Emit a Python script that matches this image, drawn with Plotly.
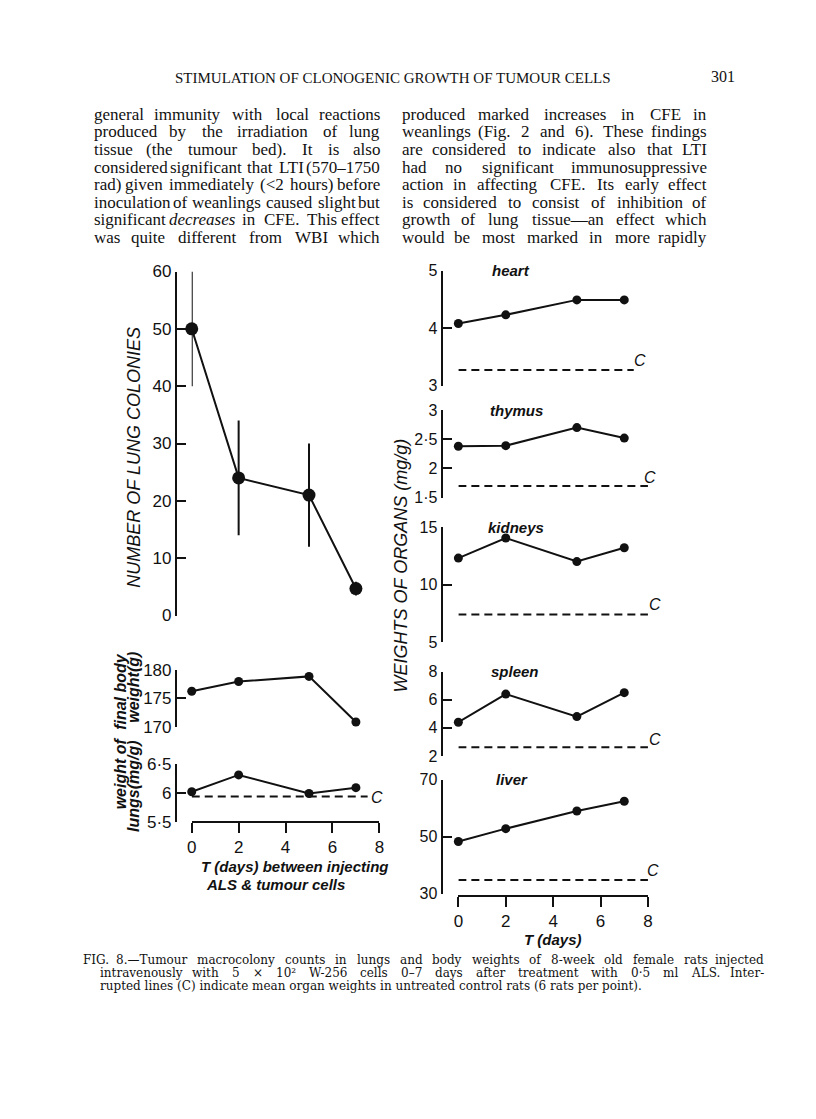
import plotly.graph_objects as go

# page is 816x1119; the figure sits inside the default 8px body margin
PAGE_W, PAGE_H = 816, 1119
OFF = 8
W, H = PAGE_W - 2 * OFF, PAGE_H - 2 * OFF

# ---------------- data ----------------
days = [0, 2, 5, 7]
lung_colonies = [50, 24, 21, 4.7]
lung_colonies_err = [10, 10, 9, 1.2]
body_weight = [176.2, 177.9, 178.8, 170.8]
lung_weight = [6.02, 6.31, 5.99, 6.09]
lung_weight_control = 5.94

organ_names = ["heart", "thymus", "kidneys", "spleen", "liver"]
heart = [4.08, 4.23, 4.49, 4.49]
thymus = [2.38, 2.39, 2.70, 2.52]
kidneys = [12.3, 14.05, 12.0, 13.2]
spleen = [4.4, 6.4, 4.8, 6.5]
liver = [48.3, 52.8, 59.0, 62.4]
organ_controls = [3.27, 1.70, 7.4, 2.63, 34.8]

x_tickvals = [0, 2, 4, 6, 8]
lung_colony_ticks = [0, 10, 20, 30, 40, 50, 60]
body_weight_ticks = [170, 175, 180]
lung_weight_ticks = [5.5, 6, 6.5]
lung_weight_ticktext = ["5·5", "6", "6·5"]
organ_ticks = [[3, 4, 5], [1.5, 2, 2.5, 3], [5, 10, 15], [2, 4, 6, 8], [30, 50, 70]]
organ_ticktext = [["3", "4", "5"], ["1·5", "2", "2·5", "3"], ["5", "10", "15"],
                  ["2", "4", "6", "8"], ["30", "50", "70"]]
organ_ranges = [[3, 5], [1.5, 3], [5, 15], [2, 8], [30, 70]]

header = "STIMULATION OF CLONOGENIC GROWTH OF TUMOUR CELLS"
page_no = "301"
col1_lines = [
    "general immunity with local reactions",
    "produced by the irradiation of lung",
    "tissue (the tumour bed). It is also",
    "considered significant that LTI (570–1750",
    "rad) given immediately (<2 hours) before",
    "inoculation of weanlings caused slight but",
    "significant decreases in CFE. This effect",
    "was quite different from WBI which",
]
col2_lines = [
    "produced marked increases in CFE in",
    "weanlings (Fig. 2 and 6). These findings",
    "are considered to indicate also that LTI",
    "had no significant immunosuppressive",
    "action in affecting CFE. Its early effect",
    "is considered to consist of inhibition of",
    "growth of lung tissue—an effect which",
    "would be most marked in more rapidly",
]
caption_lines = [
    "FIG. 8.—Tumour macrocolony counts in lungs and body weights of 8-week old female rats injected",
    "intravenously with 5 × 10² W-256 cells 0–7 days after treatment with 0·5 ml ALS. Inter-",
    "rupted lines (C) indicate mean organ weights in untreated control rats (6 rats per point).",
]

# ---------------- styles / layout geometry (page pixels) ----------------
INK = "#111111"
SANS = "Liberation Sans"
SERIF = "Liberation Serif"
CAP_SERIF = "DejaVu Serif"


def px(x):
    return (x - OFF) / W


def py(y):
    return 1 - (y - OFF) / H


LEFT_X = (189, 379)
LEFT_YAXIS_X = 173
left_panels = [(267, 617), (672, 730), (768, 827)]
LEFT_XAXIS_Y = 827

RIGHT_X = (459, 651)
RIGHT_YAXIS_X = 442
right_panels = [(266, 383), (408, 497), (527, 644), (674, 760), (784, 900)]
RIGHT_XAXIS_Y = 902

organ_dash_end = [7.4, 8.0, 8.0, 8.0, 8.0]
organ_c_pos = [7.65, 8.1, 8.3, 8.3, 8.2]
organ_c_shift = [10, 9, 10, 8, 10]
organ_label_x = [2.2, 2.45, 2.45, 2.4, 2.25]

fig = go.Figure()

yaxis_common = dict(
    anchor="free", showline=True, linecolor=INK, linewidth=2,
    ticks="inside", ticklen=9, tickwidth=2, tickcolor=INK,
    showgrid=False, zeroline=False, fixedrange=True,
    tickfont=dict(family=SANS, size=17, color=INK),
)
xaxis_common = dict(
    anchor="free", showline=True, linecolor=INK, linewidth=2,
    ticks="outside", ticklen=10, tickwidth=2, tickcolor=INK,
    showgrid=False, zeroline=False, fixedrange=True, range=[0, 8],
    tickvals=x_tickvals, ticktext=[str(v) for v in x_tickvals],
    tickfont=dict(family=SANS, size=17, color=INK),
)

layout = dict(
    width=W, height=H, margin=dict(l=0, r=0, t=0, b=0),
    paper_bgcolor="white", plot_bgcolor="rgba(0,0,0,0)", showlegend=False,
)
layout["xaxis"] = dict(xaxis_common, domain=[px(LEFT_X[0]), px(LEFT_X[1])],
                       position=py(LEFT_XAXIS_Y))
layout["xaxis2"] = dict(xaxis_common, domain=[px(RIGHT_X[0]), px(RIGHT_X[1])],
                        position=py(RIGHT_XAXIS_Y))

left_ranges = [[0, 60], [170, 180], [5.5, 6.5]]
left_ticks = [lung_colony_ticks, body_weight_ticks, lung_weight_ticks]
left_ticktext = [[str(v) for v in lung_colony_ticks],
                 [str(v) for v in body_weight_ticks], lung_weight_ticktext]
for i, (top, bot) in enumerate(left_panels):
    name = "yaxis" if i == 0 else f"yaxis{i + 1}"
    layout[name] = dict(yaxis_common, domain=[py(bot), py(top)],
                        position=px(LEFT_YAXIS_X), range=left_ranges[i],
                        tickvals=left_ticks[i], ticktext=left_ticktext[i])
for j, (top, bot) in enumerate(right_panels):
    layout[f"yaxis{j + 4}"] = dict(yaxis_common, domain=[py(bot), py(top)],
                                   position=px(RIGHT_YAXIS_X), range=organ_ranges[j],
                                   tickvals=organ_ticks[j], ticktext=organ_ticktext[j],
                                   tickfont=dict(family=SANS, size=16, color=INK))

line_style = dict(color=INK, width=2)
dash_style = dict(color=INK, width=2, dash="8px,5px")

# lung colonies with error bars
fig.add_trace(go.Scatter(
    x=days, y=lung_colonies, xaxis="x", yaxis="y", mode="lines+markers",
    line=line_style, marker=dict(size=13, color=INK), cliponaxis=False,
    error_y=dict(type="data", array=lung_colonies_err, color=INK, thickness=2, width=0),
))
# final body weight
fig.add_trace(go.Scatter(
    x=days, y=body_weight, xaxis="x", yaxis="y2", mode="lines+markers",
    line=line_style, marker=dict(size=9, color=INK), cliponaxis=False,
))
# lung weight + control
fig.add_trace(go.Scatter(
    x=[0, 7.5], y=[lung_weight_control] * 2, xaxis="x", yaxis="y3", mode="lines",
    line=dash_style,
))
fig.add_trace(go.Scatter(
    x=days, y=lung_weight, xaxis="x", yaxis="y3", mode="lines+markers",
    line=line_style, marker=dict(size=9, color=INK), cliponaxis=False,
))

annotations = []


def ann(text, x, y, size, family=SANS, angle=0, xanchor="center", style="normal",
        weight="normal"):
    annotations.append(dict(
        text=text, x=px(x), y=py(y), xref="paper", yref="paper", showarrow=False,
        textangle=angle, xanchor=xanchor, yanchor="middle",
        font=dict(family=family, size=size, color=INK, style=style, weight=weight),
    ))


def data_to_px(xv, yv, xdom, ydom, yrange):
    xp = xdom[0] + xv / 8.0 * (xdom[1] - xdom[0])
    ypx = ydom[1] - (yv - yrange[0]) / (yrange[1] - yrange[0]) * (ydom[1] - ydom[0])
    return xp, ypx


organ_series = [heart, thymus, kidneys, spleen, liver]
for j, vals in enumerate(organ_series):
    ya = f"y{j + 4}"
    fig.add_trace(go.Scatter(
        x=[0, organ_dash_end[j]], y=[organ_controls[j]] * 2, xaxis="x2", yaxis=ya,
        mode="lines", line=dash_style,
    ))
    fig.add_trace(go.Scatter(
        x=days, y=vals, xaxis="x2", yaxis=ya, mode="lines+markers",
        line=line_style, marker=dict(size=9, color=INK), cliponaxis=False,
    ))
    cx, cy = data_to_px(organ_c_pos[j], organ_controls[j], RIGHT_X, right_panels[j],
                        organ_ranges[j])
    ann("C", cx, cy - organ_c_shift[j], 16, style="italic")
    lx, ly = data_to_px(organ_label_x[j], organ_ranges[j][1], RIGHT_X, right_panels[j],
                        organ_ranges[j])
    ann(organ_names[j], lx, ly, 15, style="italic", weight="bold")

cx, cy = data_to_px(7.9, lung_weight_control, LEFT_X, left_panels[2], left_ranges[2])
ann("C", cx, cy + 1, 16, style="italic")

# axis titles
ann("NUMBER OF LUNG COLONIES", 131, 456, 18, angle=-90, style="italic")
ann("WEIGHTS OF ORGANS (mg/g)", 401, 566, 18, angle=-90, style="italic")
ann("final body", 117, 694, 16, angle=-90, style="italic", weight="bold")
ann("weight(g)", 130, 690, 16, angle=-90, style="italic", weight="bold")
ann("weight of", 117, 778, 16, angle=-90, style="italic", weight="bold")
ann("lungs(mg/g)", 130, 790, 16, angle=-90, style="italic", weight="bold")
ann("T (days) between injecting", 196, 872, 15, xanchor="left", style="italic", weight="bold")
ann("ALS & tumour cells", 201, 891, 15, xanchor="left", style="italic", weight="bold")
ann("T (days)", 555, 947, 15, style="italic", weight="bold")

# ---------------- page text (justified serif) ----------------
TIMES = {" ": 250, "!": 333, "(": 333, ")": 333, ",": 250, "-": 333, ".": 250, "/": 278,
         ":": 278, ";": 278, "<": 564, "–": 500, "—": 1000, "×": 564, "·": 250, "²": 300,
         "A": 722, "B": 667, "C": 667, "D": 722, "E": 611, "F": 556, "G": 722, "H": 722,
         "I": 333, "J": 389, "K": 722, "L": 611, "M": 889, "N": 722, "O": 722, "P": 556,
         "Q": 722, "R": 667, "S": 556, "T": 611, "U": 722, "V": 722, "W": 944, "X": 722,
         "Y": 722, "Z": 611, "a": 444, "b": 500, "c": 444, "d": 500, "e": 444, "f": 333,
         "g": 500, "h": 500, "i": 278, "j": 278, "k": 500, "l": 278, "m": 778, "n": 500,
         "o": 500, "p": 500, "q": 500, "r": 333, "s": 389, "t": 278, "u": 500, "v": 500,
         "w": 722, "x": 500, "y": 500, "z": 444}


def table_width(s, size):
    return sum(TIMES.get(c, 500) for c in s) / 1000.0 * size


def make_measurer(fontfile, fallback_scale):
    try:
        from PIL import ImageFont
        cache = {}

        def measure(s, size):
            key = int(round(size * 10))
            if key not in cache:
                cache[key] = ImageFont.truetype(fontfile, key)
            return cache[key].getlength(s) / 10.0

        measure("test", 12)
        return measure
    except Exception:
        return lambda s, size: table_width(s, size) * fallback_scale


measure_body = make_measurer("LiberationSerif-Regular.ttf", 1.0)
measure_cap = make_measurer("DejaVuSerif.ttf", 1.2)


def esc(s):
    return s.replace("&", "&amp;").replace("<", "&lt;")


def justified(line, x0, x1, y, size, family, measure, italic=()):
    words = line.split(" ")
    widths = [measure(w, size) for w in words]
    gap = (x1 - x0 - sum(widths)) / max(len(words) - 1, 1)
    x = x0
    for k, (w, wd) in enumerate(zip(words, widths)):
        style = "italic" if w in italic else "normal"
        if k == 0:
            ann(esc(w), x0, y, size, family=family, xanchor="left", style=style)
        elif k == len(words) - 1:
            ann(esc(w), x1, y, size, family=family, xanchor="right", style=style)
        else:
            ann(esc(w), x + wd / 2, y, size, family=family, style=style)
        x += wd + gap


ann(header, 393, 70, 15, family=SERIF)
ann(page_no, 727, 69, 16, family=SERIF)

BODY_Y0, BODY_DY = 107, 17.9
for k, line in enumerate(col1_lines):
    justified(line, 88, 382, BODY_Y0 + k * BODY_DY, 17, SERIF, measure_body,
              italic=("decreases",))
for k, line in enumerate(col2_lines):
    justified(line, 400, 713, BODY_Y0 + k * BODY_DY, 17, SERIF, measure_body)

justified(caption_lines[0], 77, 771, 968, 12, CAP_SERIF, measure_cap)
justified(caption_lines[1], 94, 771, 981, 12, CAP_SERIF, measure_cap)
ann(caption_lines[2], 94, 994, 12, family=CAP_SERIF, xanchor="left")

layout["annotations"] = annotations
fig.update_layout(**layout)
fig.write_html("out.html", config={"displayModeBar": False})
